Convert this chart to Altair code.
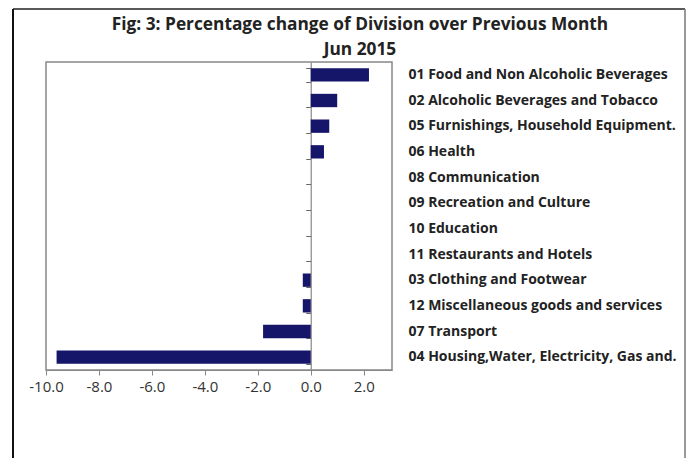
import altair as alt
import pandas as pd

categories = [
    "01 Food and Non Alcoholic Beverages",
    "02 Alcoholic Beverages and Tobacco",
    "05 Furnishings, Household Equipment.",
    "06 Health",
    "08 Communication",
    "09 Recreation and Culture",
    "10 Education",
    "11 Restaurants and Hotels",
    "03 Clothing and Footwear",
    "12 Miscellaneous goods and services",
    "07 Transport",
    "04 Housing,Water, Electricity, Gas and.",
]
values = [2.2, 1.0, 0.7, 0.5, 0.0, 0.0, 0.0, 0.0, -0.3, -0.3, -1.8, -9.6]
x_ticks = [-10, -8, -6, -4, -2, 0, 2]

df = pd.DataFrame({"division": categories, "change": values})

W, H = 346, 308
XMIN, XMAX = -10.0, 3.07
zero_px = (0 - XMIN) / (XMAX - XMIN) * W
FONT = "Open Sans"

y_enc_right = alt.Y(
    "division:N", sort=categories, title=None,
    scale=alt.Scale(paddingInner=0.48, paddingOuter=0.24),
    axis=alt.Axis(orient="right", domain=False, ticks=False, labelPadding=16,
                  labelFont=FONT, labelFontWeight="bold", labelFontSize=14,
                  labelColor="#222", labelLimit=280, labelAlign="left"),
)

bars = alt.Chart(df).mark_bar(color="#15156a").encode(
    x=alt.X("change:Q", title=None,
            scale=alt.Scale(domain=[XMIN, XMAX], nice=False, zero=False),
            axis=alt.Axis(values=x_ticks, format=".1f", grid=False,
                          labelExpr="replace(datum.label, '\u2212', '-')",
                          labelOverlap=False, labelFlush=False,
                          domainColor="#888", tickColor="#888", tickSize=5,
                          labelFont=FONT, labelFontSize=15, labelColor="#333",
                          labelPadding=4)),
    y=y_enc_right,
)

zero_axis = alt.Chart(df).mark_bar(opacity=0).encode(
    x=alt.X("change:Q", scale=alt.Scale(domain=[XMIN, XMAX], nice=False, zero=False)),
    y=alt.Y("division:N", sort=categories, title=None,
            axis=alt.Axis(orient="left", offset=-zero_px, labels=False,
                          domainColor="#888", domainWidth=1.2,
                          tickColor="#666", tickSize=5, tickBand="extent")),
)

frame_df = pd.DataFrame({"k": [0]})
TOP = -53
left_border = alt.Chart(frame_df).mark_rule(color="#111", strokeWidth=2).encode(
    x=alt.value(13 - 46), y=alt.value(TOP), y2=alt.value(470 - 62))
top_border = alt.Chart(frame_df).mark_rule(color="#222", strokeWidth=1.5).encode(
    x=alt.value(13 - 46), x2=alt.value(685 - 46), y=alt.value(TOP))
right_border = alt.Chart(frame_df).mark_rule(color="#777", strokeWidth=1.5).encode(
    x=alt.value(685 - 46), y=alt.value(TOP), y2=alt.value(470 - 62))

chart = alt.layer(zero_axis, bars, left_border, top_border, right_border).resolve_axis(
    y="independent"
).properties(
    width=W, height=H,
    padding={"left": 38, "top": 54, "right": 295, "bottom": 88},
    autosize=alt.AutoSizeParams(type="none"),
    title=alt.TitleParams(
        ["Fig: 3: Percentage change of Division over Previous Month", "Jun 2015"],
        font=FONT, fontSize=17.3, fontWeight="bold", color="#222",
        anchor="middle", frame="group", dx=141, offset=-50, lineHeight=25,
    ),
).configure_view(stroke="#888", strokeWidth=1.5)

chart.save("out.html", embed_options={"renderer": "svg", "actions": False})
